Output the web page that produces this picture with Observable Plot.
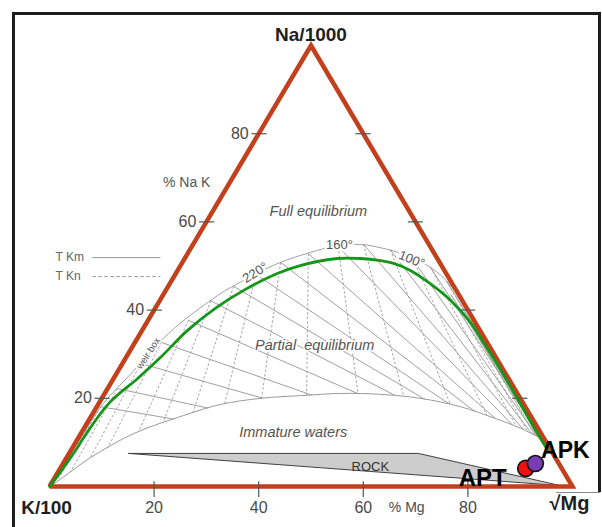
<!DOCTYPE html>
<html>
<head>
<meta charset="utf-8">
<script src="https://cdn.jsdelivr.net/npm/d3@7"></script>
<script src="https://cdn.jsdelivr.net/npm/@observablehq/plot@0.6"></script>
<style>
html, body { margin: 0; padding: 0; background: #fff; }
#wrap { position: relative; width: 602px; height: 527px; overflow: hidden; }
#frame { position: absolute; left: 12px; top: 12px; width: 583px; height: 477px; border: 3px solid #1c1c1c; border-bottom: none; }
#frameL { position: absolute; left: 12px; top: 490px; width: 3px; height: 40px; background: #1c1c1c; }
#frameB { position: absolute; left: 556px; top: 492px; width: 44px; height: 1px; background: #8a8a8a; }
#chart { position: absolute; left: 0; top: 0; }
</style>
</head>
<body>
<div id="wrap"><div id="frame"></div><div id="frameL"></div><div id="frameB"></div><div id="chart"></div></div>
<script>
// ---------- data (ternary [Na %, Mg %], K = 100 - Na - Mg) ----------
const tickValues = [20, 40, 60, 80];
const sampleNames = ["APT", "APK"];
const sampleNa = [4.1, 5.2];
const sampleMg = [89.0, 90.3];
const sampleColors = ["#ee1111", "#7a3db3"];

const fullEqCurve = [[0,0],[8,0.4],[18.8,0.9],[25.9,2.9],[34.7,5.4],[43.3,10.5],[46.7,13.7],[50.6,18.4],[53.1,23.4],[54.4,27.1],[54.9,32.0],[54.0,36.8],[53.1,40.0],[49.7,48.0],[45.6,53.9],[41.5,58.2],[37.2,62.5],[32.4,67.3],[27.4,72.3],[18.8,80.9],[12.0,87.6]];
const greenCurve = [[0,0],[3.6,0.5],[8.2,0.9],[11.1,1.0],[18.8,1.9],[24.5,4.6],[29.3,6.6],[35.4,8.7],[40.4,11.5],[44.7,15.1],[48.3,19.4],[50.1,22.9],[51.7,29.2],[51.7,33.6],[51.2,37.7],[50.6,40.5],[49.0,44.5],[46.0,49.8],[42.2,55.6],[37.2,61.9],[32.4,66.9],[27.4,72.1],[18.8,80.6],[12.0,87.3],[8.0,91.4]];
const immatureCurve = [[0,0],[2.0,1.5],[6.6,4.6],[12.0,10.1],[16.1,17.6],[18.6,23.4],[20.0,30.4],[20.6,37.7],[21.1,45.1],[20.9,52.8],[20.0,60.9],[18.1,69.5],[15.4,77.6],[13.2,83.5],[11.3,87.8],[10.9,89.1]];
const gridNodes = [[18.1,0.7],[22.2,1.9],[27.9,3.5],[32.7,5.0],[37.7,7.7],[42.1,9.8],[45.4,12.5],[48.1,15.4],[50.8,18.8],[52.8,23.1],[54.4,28.0],[54.9,32.6],[53.7,38.3],[51.5,43.7],[49.7,48.0],[46.6,52.6],[43.5,55.0],[39.0,60.0],[34.0,65.3],[29.0,70.4],[24.0,75.4],[19.0,80.3]];
const rockArea = [[7.5,11.4],[7.5,66.8],[0.2,97.6],[7.5,11.4]];
const triangle = [[0,0],[0,100],[100,0],[0,0]];

const regionLabels = ["Full equilibrium", "Partial  equilibrium", "Immature waters"];
const regionPos = [[62.4,20.2],[32.0,34.7],[12.2,40.5]];
const tempLabels = ["220°", "160°", "100°"];
const tempPos = [[48.5,15.1],[54.9,28.0],[51.5,43.5]];
const legendLabels = ["T Km", "T Kn"];

// ---------- helpers ----------
const cx = p => p[1] + p[0] / 2;   // Mg + Na/2
const cy = p => p[0];              // Na
const toXY = p => [cx(p), cy(p)];

function firstHit(p, q, poly) {
  let best = null;
  for (let i = 0; i < poly.length - 1; i++) {
    const a = poly[i], b = poly[i + 1];
    const r = [q[0] - p[0], q[1] - p[1]], s = [b[0] - a[0], b[1] - a[1]];
    const den = r[0] * s[1] - r[1] * s[0];
    if (Math.abs(den) < 1e-12) continue;
    const t = ((a[0] - p[0]) * s[1] - (a[1] - p[1]) * s[0]) / den;
    const u = ((a[0] - p[0]) * r[1] - (a[1] - p[1]) * r[0]) / den;
    if (t > 1e-6 && t <= 1 && u >= 0 && u <= 1 && (best === null || t < best)) best = t;
  }
  return best === null ? null : [p[0] + (q[0] - p[0]) * best, p[1] + (q[1] - p[1]) * best];
}

const immXY = immatureCurve.map(toXY);
const apex = [50, 100], mgVertex = [100, 0];
const dashedSegs = [], solidSegs = [];
for (const n of gridNodes) {
  const N = toXY(n);
  const k = 100 / (100 - N[1]);
  const B = [apex[0] + (N[0] - apex[0]) * k, 0];
  const h1 = firstHit(N, B, immXY);
  if (h1) dashedSegs.push({x1: N[0], y1: N[1], x2: h1[0], y2: h1[1]});
  const h2 = firstHit(N, mgVertex, immXY);
  if (h2) solidSegs.push({x1: N[0], y1: N[1], x2: h2[0], y2: h2[1]});
}

const font = "'Liberation Sans', Arial, Helvetica, sans-serif";
const txt = "#4a4a4a";

const marks = [
  // grid
  Plot.link(solidSegs, {x1: "x1", y1: "y1", x2: "x2", y2: "y2", stroke: "#8e8e8e", strokeWidth: 0.85}),
  Plot.link(dashedSegs, {x1: "x1", y1: "y1", x2: "x2", y2: "y2", stroke: "#9a9a9a", strokeWidth: 0.9, strokeDasharray: "2.5,2"}),
  // curves
  Plot.line(fullEqCurve, {x: cx, y: cy, stroke: "#a0a0a0", strokeWidth: 1, curve: "catmull-rom"}),
  Plot.line(immatureCurve, {x: cx, y: cy, stroke: "#9a9a9a", strokeWidth: 1, curve: "catmull-rom"}),
  // rock
  Plot.line(rockArea, {x: cx, y: cy, fill: "#cdcdcd", stroke: "#404040", strokeWidth: 1, strokeLinejoin: "miter"}),
  // triangle
  Plot.line(triangle, {x: cx, y: cy, stroke: "#c2401c", strokeWidth: 4.5, strokeLinejoin: "miter", strokeMiterlimit: 4, strokeLinecap: "butt"}),
  // ticks
  Plot.link(tickValues, {x1: v => v / 2 - 1.4, x2: v => v / 2 + 1.5, y1: v => v, y2: v => v, stroke: "#555", strokeWidth: 1.2}),
  Plot.link(tickValues, {x1: v => 100 - v / 2 - 1.5, x2: v => 100 - v / 2 + 1.4, y1: v => v, y2: v => v, stroke: "#555", strokeWidth: 1.2}),
  Plot.link(tickValues, {x1: v => v, x2: v => v, y1: 1.2, y2: -2.4, stroke: "#555", strokeWidth: 1.2}),
  // green curve
  Plot.line(greenCurve, {x: cx, y: cy, stroke: "#15961a", strokeWidth: 2.8, curve: "catmull-rom"}),
  // tick labels
  Plot.text(tickValues, {x: v => v / 2, y: v => v, text: v => String(v), textAnchor: "end", dx: -10, fontSize: 16, fill: txt}),
  Plot.text(tickValues, {x: v => v, y: 0, text: v => String(v), dy: 21, fontSize: 16, fill: txt}),
  Plot.text(["% Mg"], {x: 68.3, y: 0, text: d => d, dy: 21, fontSize: 14, fill: txt}),
  Plot.text(["% Na K"], {x: 68.9 / 2, y: 68.9, text: d => d, dx: -43, fontSize: 14, fill: "#555"}),
  // vertex labels
  Plot.text(["Na/1000"], {x: 50, y: 100, text: d => d, dy: -11, fontSize: 19, fontWeight: "bold", fill: "#1e1e1e"}),
  Plot.text(["K/100"], {x: 0, y: 0, text: d => d, dx: -3, dy: 21, fontSize: 19, fontWeight: "bold", fill: "#1e1e1e"}),
  Plot.text(["√Mg"], {x: 100, y: 0, text: d => d, dx: -3, dy: 17, fontSize: 20, fontWeight: "bold", fill: "#1e1e1e"}),
  // region labels
  Plot.text(regionLabels, {x: (d, i) => cx(regionPos[i]), y: (d, i) => cy(regionPos[i]), text: d => d, fontSize: 14.5, fontStyle: "italic", fill: "#555", stroke: "white", strokeWidth: 3}),
  Plot.text(["ROCK"], {x: cx([4.5, 59.1]), y: cy([4.5, 59.1]), text: d => d, fontSize: 13, fill: "#333"}),
  // temperature labels
  Plot.text([tempLabels[0]], {x: cx(tempPos[0]), y: cy(tempPos[0]), text: d => d, rotate: -32, fontSize: 13, fill: "#555", stroke: "white", strokeWidth: 5}),
  Plot.text([tempLabels[1]], {x: cx(tempPos[1]), y: cy(tempPos[1]), text: d => d, fontSize: 13, fill: "#555", stroke: "white", strokeWidth: 5}),
  Plot.text([tempLabels[2]], {x: cx(tempPos[2]), y: cy(tempPos[2]), text: d => d, rotate: 22, fontSize: 13, fill: "#555", stroke: "white", strokeWidth: 5}),
  Plot.text(["weir box"], {x: cx([30.2, 3.8]), y: cy([30.2, 3.8]), text: d => d, rotate: -57, fontSize: 9.5, fill: "#555", stroke: "white", strokeWidth: 3}),
  // legend (left margin)
  Plot.link([legendLabels[0]], {x1: 8.2, x2: 21.2, y1: 51.9, y2: 51.9, stroke: "#888", strokeWidth: 0.9}),
  Plot.link([legendLabels[1]], {x1: 8.2, x2: 21.2, y1: 47.6, y2: 47.6, stroke: "#888", strokeWidth: 0.9, strokeDasharray: "3.5,2.5"}),
  Plot.text(legendLabels, {x: 1.15, y: (d, i) => 51.9 - 4.3 * i, text: d => d, textAnchor: "start", fontSize: 12, fill: "#666"}),
  // samples
  ...sampleNames.map((s, i) => Plot.dot([s], {x: cx([sampleNa[i], sampleMg[i]]), y: cy([sampleNa[i], sampleMg[i]]), r: 8, fill: sampleColors[i], stroke: "#111", strokeWidth: 1.6})),
  Plot.text([sampleNames[0]], {x: cx([sampleNa[0], sampleMg[0]]), y: cy([sampleNa[0], sampleMg[0]]), text: d => d, dx: -43, dy: 10, fontSize: 24, fontWeight: "bold", fill: "#000"}),
  Plot.text([sampleNames[1]], {x: cx([sampleNa[1], sampleMg[1]]), y: cy([sampleNa[1], sampleMg[1]]), text: d => d, dx: 30, dy: -13, fontSize: 23, fontWeight: "bold", fill: "#000"})
];

const chart = Plot.plot({
  width: 602, height: 527,
  marginLeft: 49, marginRight: 30, marginTop: 45, marginBottom: 41,
  x: {domain: [0, 100], axis: null},
  y: {domain: [0, 100], axis: null},
  style: {fontFamily: font, background: "transparent", overflow: "visible"},
  marks
});
document.getElementById("chart").appendChild(chart);
</script>
</body>
</html>
